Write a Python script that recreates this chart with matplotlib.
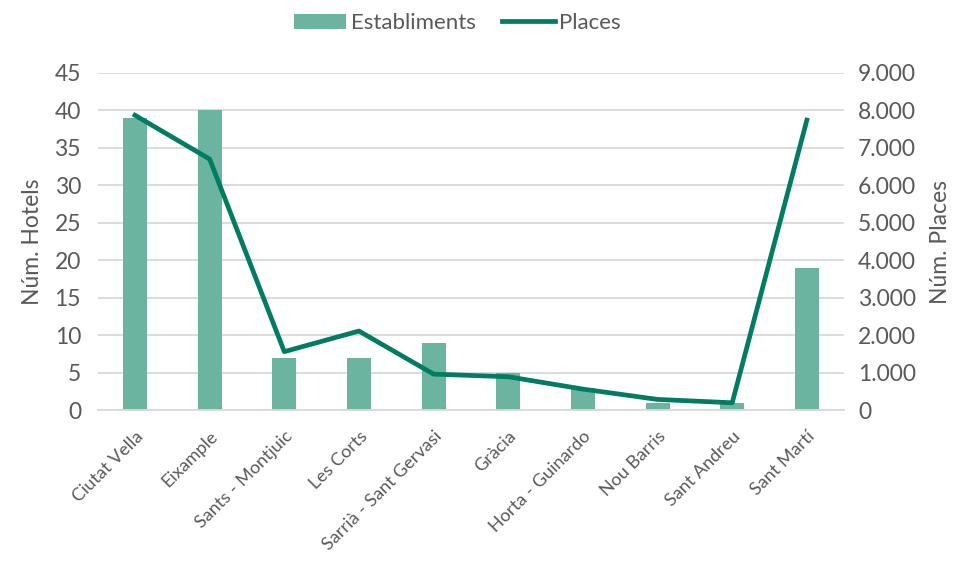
import matplotlib
matplotlib.use("Agg")
import matplotlib.pyplot as plt
from matplotlib.ticker import FuncFormatter, MultipleLocator

categories = ["Ciutat Vella", "Eixample", "Sants - Montjuic", "Les Corts",
              "Sarrià - Sant Gervasi", "Gràcia", "Horta - Guinardo",
              "Nou Barris", "Sant Andreu", "Sant Martí"]
establiments = [39, 40, 7, 7, 9, 5, 3, 1, 1, 19]
places = [7870, 6700, 1560, 2110, 960, 890, 560, 285, 195, 7740]

plt.rcParams['font.family'] = ['Lato', 'DejaVu Sans']
txt = "#595959"
bar_c = "#6BB5A0"
line_c = "#007C60"

fig = plt.figure(figsize=(9.67, 5.61), dpi=100)
ax = fig.add_axes([0.101, 0.269, 0.772, 0.601])
ax2 = ax.twinx()

x = list(range(len(categories)))
ax.bar(x, establiments, width=0.32, color=bar_c, label="Establiments", zorder=2)
ax2.plot(x, places, color=line_c, lw=3.4, label="Places", solid_joinstyle="round", zorder=3)

ax.set_xlim(-0.5, len(categories) - 0.5)
ax.set_ylim(0, 45)
ax.yaxis.set_major_locator(MultipleLocator(5))
ax2.set_ylim(0, 9000)
ax2.yaxis.set_major_locator(MultipleLocator(1000))
ax2.yaxis.set_major_formatter(FuncFormatter(lambda v, p: f"{int(v):,}".replace(",", ".")))

ax.grid(axis="y", color="#D9D9D9", lw=1.3, zorder=0)
ax.set_axisbelow(True)
for a in (ax, ax2):
    for s in a.spines.values():
        s.set_visible(False)
    a.tick_params(length=0, colors=txt, labelsize=16.5)
ax.spines['bottom'].set_visible(True)
ax.spines['bottom'].set_color("#D9D9D9")
ax.spines['bottom'].set_linewidth(1.3)

ax.set_xticks(x)
ax.set_xticklabels(categories, rotation=45, ha="right", rotation_mode="anchor", fontsize=13, color=txt)
ax.tick_params(axis="x", pad=13)
ax.tick_params(axis="y", pad=12)
ax2.tick_params(axis="y", pad=10)

ax.set_ylabel("Núm. Hotels", fontsize=16.5, color=txt, labelpad=8)
ax2.set_ylabel("Núm. Places", fontsize=16.5, color=txt, labelpad=10)

h1, l1 = ax.get_legend_handles_labels()
h2, l2 = ax2.get_legend_handles_labels()
fig.legend(h1 + h2, l1 + l2, loc="upper center", bbox_to_anchor=(0.473, 1.012), ncol=2,
           frameon=False, fontsize=16, labelcolor=txt, handlelength=2.35, handleheight=0.7,
           columnspacing=1.2, handletextpad=0.22)

fig.savefig("out.png", dpi=100)
